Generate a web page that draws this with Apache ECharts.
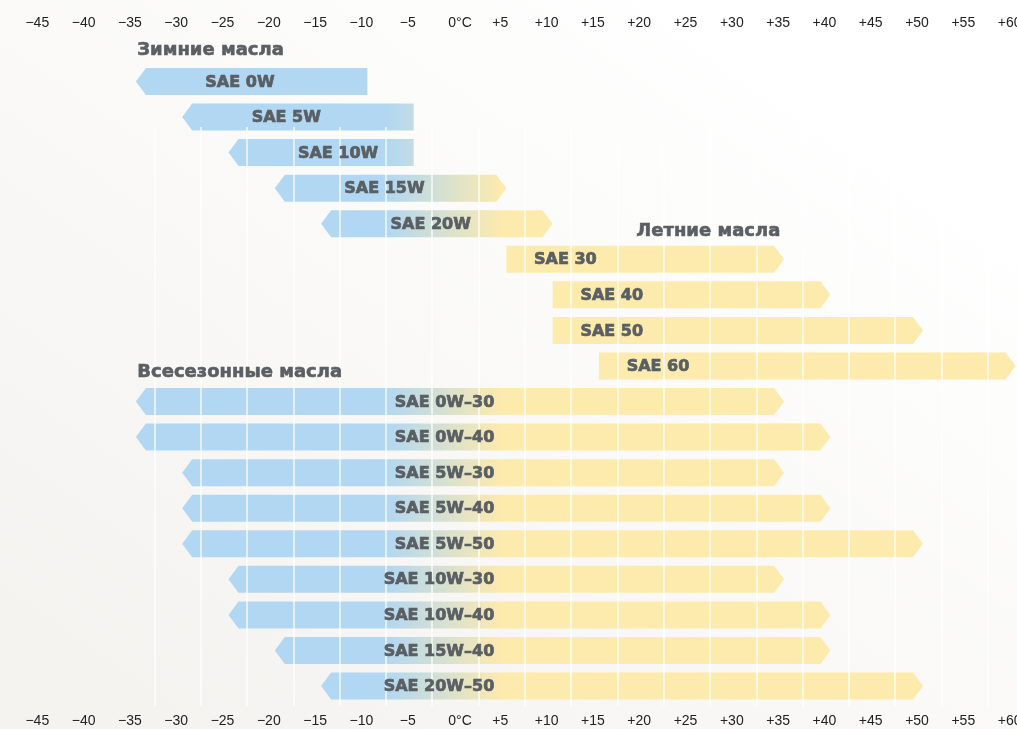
<!DOCTYPE html>
<html>
<head>
<meta charset="utf-8">
<script src="https://cdn.jsdelivr.net/npm/echarts/dist/echarts.min.js"></script>
<style>
  html, body { margin: 0; padding: 0; }
  #main { width: 1017px; height: 729px; }
</style>
</head>
<body>
<div id="main"></div>
<script>
// rows, top to bottom
const rows = [
  'SAE 0W', 'SAE 5W', 'SAE 10W', 'SAE 15W', 'SAE 20W',
  'SAE 30', 'SAE 40', 'SAE 50', 'SAE 60',
  'SAE 0W–30', 'SAE 0W–40', 'SAE 5W–30', 'SAE 5W–40', 'SAE 5W–50',
  'SAE 10W–30', 'SAE 10W–40', 'SAE 15W–40', 'SAE 20W–50'
];
// which oil group each row belongs to
const season = [
  'winter', 'winter', 'winter', 'winter', 'winter',
  'summer', 'summer', 'summer', 'summer',
  'all', 'all', 'all', 'all', 'all', 'all', 'all', 'all', 'all'
];
// temperature range, °C
const lowTemp = [-35, -30, -25, -20, -15, 5, 10, 10, 15, -35, -35, -30, -30, -30, -25, -25, -20, -15];
const highTemp = [-10, -5, -5, 5, 10, 35, 40, 50, 60, 35, 40, 35, 40, 50, 35, 40, 40, 50];

const groupTitles = ['Зимние масла', 'Летние масла', 'Всесезонные масла'];

// axis ticks
const tickMin = -45;
const tickMax = 60;
const tickStep = 5;

// ---- layout / style ----
const W = 1017;
const X0 = 460;      // pixel of 0 °C
const PX = 9.26;     // pixels per degree
const BLUE = '#b1d7f3';
const YELLOW = '#fdeaad';
const FADE_FROM = -8;
const FADE_TO = 4.5;
const TEXT = '#5a5f63';
const ARROW = 10;

const gridTop = 63.7;
const gridBottom = 25.2;

const fmtTick = v => v === 0 ? '{z|0°C}' : '{n|' + (v > 0 ? '+' + v : '−' + Math.abs(v)) + '}';
const tickFont = { fontSize: 14, fontFamily: 'Liberation Sans', color: '#222' };

const labelAxis = (pos, offset, margin) => ({
  type: 'value', gridIndex: 0, position: pos, offset: offset,
  min: tickMin, max: tickMax, interval: tickStep,
  axisLine: { show: false }, axisTick: { show: false }, splitLine: { show: false },
  axisLabel: {
    margin: margin, formatter: fmtTick,
    rich: {
      n: Object.assign({ padding: [0, 12, 0, 0] }, tickFont),
      z: Object.assign({}, tickFont)
    }
  }
});

function barItem(params, api) {
  const row = api.value(0), lo = api.value(1), hi = api.value(2);
  const a = api.coord([lo, row]), b = api.coord([hi, row]);
  const h = api.size([0, 1])[1] * 0.76;
  const cy = a[1], yt = cy - h / 2, yb = cy + h / 2;
  const lp = lo < 0, rp = hi > 0;
  const pts = [[a[0] + (lp ? ARROW : 0), yt], [b[0] - (rp ? ARROW : 0), yt]];
  if (rp) pts.push([b[0], cy]);
  pts.push([b[0] - (rp ? ARROW : 0), yb], [a[0] + (lp ? ARROW : 0), yb]);
  if (lp) pts.push([a[0], cy]);
  const g0 = api.coord([FADE_FROM, row])[0], g1 = api.coord([FADE_TO, row])[0];
  return {
    type: 'polygon',
    shape: { points: pts },
    style: {
      fill: new echarts.graphic.LinearGradient(g0, 0, g1, 0, [
        { offset: 0, color: BLUE }, { offset: 1, color: YELLOW }
      ], true)
    }
  };
}

function textItem(params, api) {
  const i = params.dataIndex;
  const row = api.value(0), lo = api.value(1);
  let at, align;
  if (season[i] === 'winter') { at = lo + 7.5; align = 'left'; }
  else if (season[i] === 'summer') { at = lo + 3; align = 'left'; }
  else { at = 3.7; align = 'right'; }
  const p = api.coord([at, row]);
  return {
    type: 'text',
    style: {
      text: rows[i], x: p[0], y: p[1] + 1,
      align: align, verticalAlign: 'middle',
      font: 'bold 16px "DejaVu Sans"', fill: TEXT,
      stroke: TEXT, lineWidth: 0.7
    }
  };
}

const seriesData = rows.map((r, i) => [i, lowTemp[i], highTemp[i]]);

const chart = echarts.init(document.getElementById('main'));

const titleStyle = text => ({
  text: text, font: 'bold 18px "DejaVu Sans"', fill: TEXT, stroke: TEXT, lineWidth: 0.6
});

const option = {
  backgroundColor: {
    type: 'linear', x: 0.7, y: 0, x2: 0.2, y2: 1,
    colorStops: [{ offset: 0, color: '#ffffff' }, { offset: 1, color: '#f4f3f0' }]
  },
  animation: false,
  grid: [
    {
      left: X0 + tickMin * PX, right: W - (X0 + tickMax * PX),
      top: gridTop, bottom: gridBottom, outerBoundsMode: 'none'
    },
    {
      // white division lines, u = t + 3
      left: X0 - 33 * PX, right: W - (X0 + 57 * PX),
      top: 127, bottom: 23, outerBoundsMode: 'none'
    }
  ],
  xAxis: [
    labelAxis('top', 26, 8),
    labelAxis('bottom', 0, 10),
    {
      type: 'value', gridIndex: 1, min: -30, max: 60, interval: 5, z: 3,
      axisLine: { show: false }, axisTick: { show: false }, axisLabel: { show: false },
      splitLine: { show: true, lineStyle: { color: 'rgba(255,255,255,0.85)', width: 1.5 } }
    }
  ],
  yAxis: [
    { type: 'category', gridIndex: 0, data: rows, inverse: true, show: false },
    { type: 'value', gridIndex: 1, show: false }
  ],
  series: [
    {
      type: 'custom', xAxisIndex: 0, yAxisIndex: 0, z: 2, clip: false,
      renderItem: barItem, encode: { x: [1, 2], y: 0 }, data: seriesData
    },
    {
      type: 'custom', xAxisIndex: 0, yAxisIndex: 0, z: 10, clip: false,
      renderItem: textItem, encode: { x: [1, 2], y: 0 }, data: seriesData
    }
  ],
  graphic: [
    { type: 'text', left: 137, top: 41, z: 100, style: titleStyle(groupTitles[0]) },
    { type: 'text', left: 636, top: 222, z: 100, style: titleStyle(groupTitles[1]) },
    { type: 'text', left: 137, top: 363, z: 100, style: titleStyle(groupTitles[2]) }
  ]
};

chart.setOption(option);
window.addEventListener('resize', () => chart.resize());
</script>
</body>
</html>
